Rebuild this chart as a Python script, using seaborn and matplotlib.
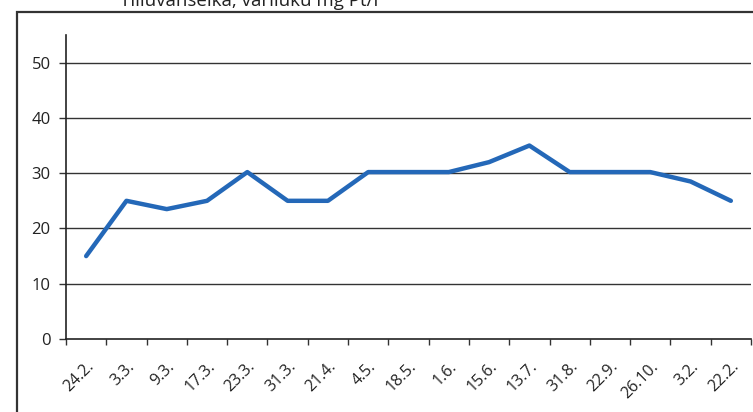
import matplotlib
matplotlib.use("Agg")
import numpy as np
import pandas as pd
import matplotlib.pyplot as plt
import seaborn as sns
from matplotlib.patches import Rectangle
from matplotlib.transforms import ScaledTranslation

# päivämäärät ja väriluvut
dates = ["24.2.", "3.3.", "9.3.", "17.3.", "23.3.", "31.3.", "21.4.", "4.5.",
         "18.5.", "1.6.", "15.6.", "13.7.", "31.8.", "22.9.", "26.10.", "3.2.", "22.2."]
values = [15, 25, 23.5, 25, 30.2, 25, 25, 30.2, 30.2, 30.2, 32, 35, 30.2, 30.2, 30.2, 28.5, 25]
yticks = [0, 10, 20, 30, 40, 50]
title = "Tilluvanselkä, väriluku mg Pt/l"

sns.set_theme(style="white")
plt.rcParams['font.family'] = ['Open Sans', 'DejaVu Sans']

df = pd.DataFrame({"pos": np.arange(len(dates)), "vari": values})

fig = plt.figure(figsize=(7.53, 4.12), dpi=100)
ax = fig.add_axes([66/753, 1-339/412, (751-66)/753, (339-35)/412])

sns.lineplot(data=df, x="pos", y="vari", ax=ax, color="#2468b8", linewidth=3.2,
             solid_capstyle="round", solid_joinstyle="round", zorder=3)

ax.set_xlim(-0.5, len(dates) - 0.5)
ax.set_ylim(0, 55)
ax.set_yticks(yticks)
ax.set_yticklabels([str(t) for t in yticks], fontsize=12, color="#222222")
for t in yticks[1:]:
    ax.axhline(t, color="#333333", linewidth=1.0, zorder=1)

ax.set_xticks(np.arange(len(dates)))
ax.set_xticklabels(dates, rotation=45, ha="right", rotation_mode="anchor",
                   fontsize=11.5, color="#222222")
shift = ScaledTranslation(8/100, 0, fig.dpi_scale_trans)
for lab in ax.get_xticklabels():
    lab.set_transform(lab.get_transform() + shift)
ax.set_xticks(np.arange(len(dates) + 1) - 0.5, minor=True)
ax.tick_params(axis="x", which="major", length=0, pad=14)
ax.tick_params(axis="x", which="minor", length=4, width=1, color="#333333",
               direction="out", bottom=True)
ax.tick_params(axis="y", length=5, width=1, color="#333333", direction="out",
               left=True, pad=6)

ax.set_xlabel("")
ax.set_ylabel("")
for s in ["top", "right"]:
    ax.spines[s].set_visible(False)
for s in ["left", "bottom"]:
    ax.spines[s].set_color("#222222")
    ax.spines[s].set_linewidth(1.2)

# kehys koko kaavion ympärillä
fig.add_artist(Rectangle((17/753, -0.2), 2.0, 1.2 - 12/412, transform=fig.transFigure,
                         fill=False, edgecolor="#333333", linewidth=1.6))

fig.text(120/753, 1-6/412, title, fontsize=13.5, va="baseline", ha="left", color="#222222")

fig.savefig("out.png", dpi=100)
